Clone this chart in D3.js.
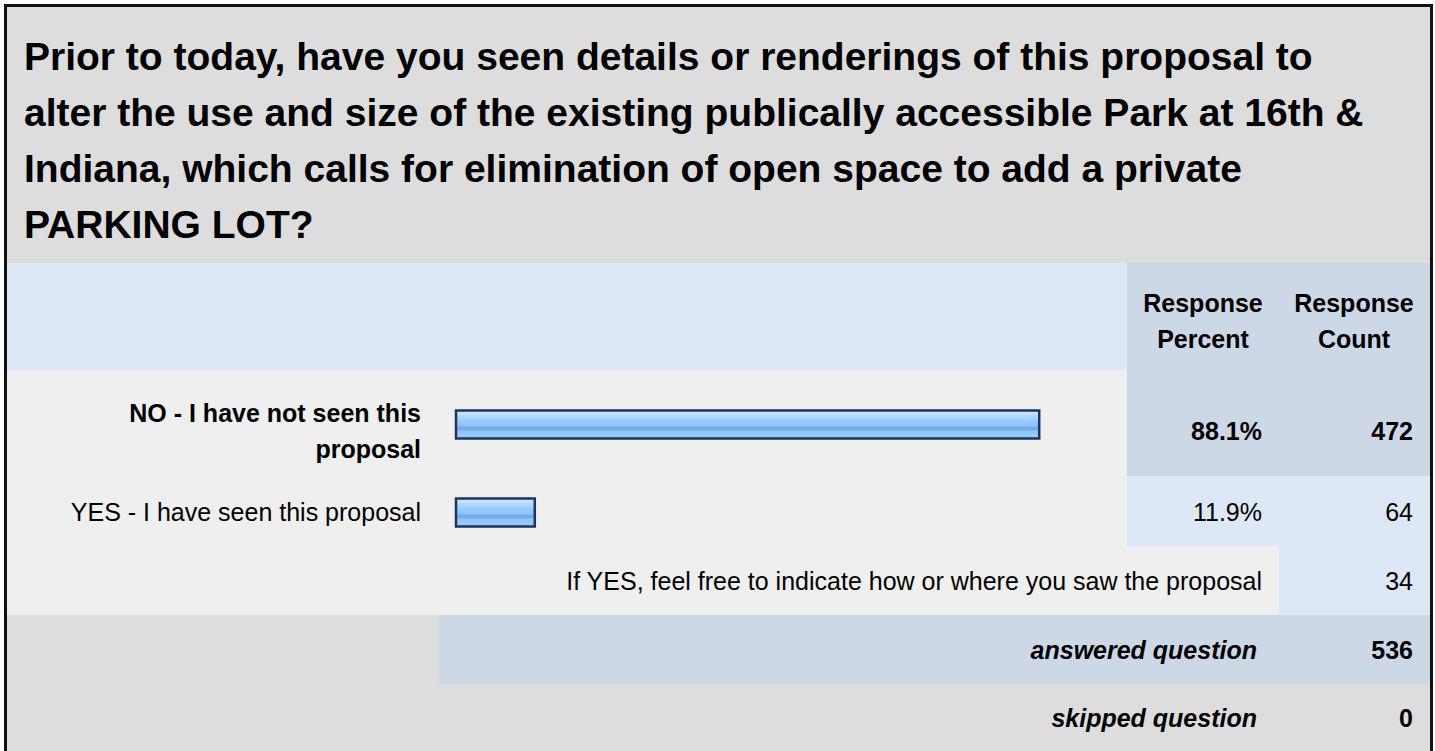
<!DOCTYPE html>
<html><head><meta charset="utf-8">
<script src="https://cdn.jsdelivr.net/npm/d3@7"></script>
<style>body{margin:0;background:#fff;overflow:hidden}svg{display:block}text{font-family:"Liberation Sans",Arial,Helvetica,sans-serif;fill:#000}</style>
</head><body><svg id="c" width="1435" height="751"></svg>
<script>
// ---- data ----
const titleLines = [
  "Prior to today, have you seen details or renderings of this proposal to",
  "alter the use and size of the existing publically accessible Park at 16th &",
  "Indiana, which calls for elimination of open space to add a private",
  "PARKING LOT?"
];
const headerPercent = ["Response", "Percent"];
const headerCount = ["Response", "Count"];
const answerLabels = [["NO - I have not seen this", "proposal"], ["YES - I have seen this proposal"]];
const percents = [88.1, 11.9];
const counts = [472, 64];
const otherLabel = "If YES, feel free to indicate how or where you saw the proposal";
const otherCount = 34;
const summaryLabels = ["answered question", "skipped question"];
const summaryValues = [536, 0];

// ---- layout ----
const svg = d3.select("#c");
const L = 7, R = 1430, colP = 1127, colC = 1279;
const rowsY = [263, 370, 476, 546, 615, 684, 760];
const TS = 39, FS = 25;

const defs = svg.append("defs");
const g = defs.append("linearGradient").attr("id", "bar").attr("x1", 0).attr("x2", 0).attr("y1", 0).attr("y2", 1);
[[0, "#d2e8ff"], [0.2, "#b4d8ff"], [0.35, "#9ccaff"], [0.55, "#8fc1f8"], [0.6, "#74abec"], [0.7, "#78afef"], [0.75, "#92c4fa"], [1, "#9fcbfb"]]
  .forEach(([o, c]) => g.append("stop").attr("offset", o).attr("stop-color", c));

// backgrounds
svg.append("rect").attr("x", L).attr("y", 7).attr("width", R - L).attr("height", rowsY[0] - 7).attr("fill", "#dddddd");
svg.append("rect").attr("x", L).attr("y", rowsY[0]).attr("width", colP - L).attr("height", rowsY[1] - rowsY[0]).attr("fill", "#dce8f6");
svg.append("rect").attr("x", colP).attr("y", rowsY[0]).attr("width", R - colP).attr("height", rowsY[1] - rowsY[0]).attr("fill", "#cdd8e6");
svg.append("rect").attr("x", L).attr("y", rowsY[1]).attr("width", R - L).attr("height", rowsY[4] - rowsY[1]).attr("fill", "#efefef");
svg.append("rect").attr("x", colP).attr("y", rowsY[1]).attr("width", R - colP).attr("height", rowsY[2] - rowsY[1]).attr("fill", "#cdd8e6");
svg.append("rect").attr("x", colP).attr("y", rowsY[2]).attr("width", R - colP).attr("height", rowsY[3] - rowsY[2]).attr("fill", "#dce8f6");
svg.append("rect").attr("x", colC).attr("y", rowsY[3]).attr("width", R - colC).attr("height", rowsY[4] - rowsY[3]).attr("fill", "#dce8f6");
svg.append("rect").attr("x", L).attr("y", rowsY[4]).attr("width", R - L).attr("height", rowsY[6] - rowsY[4]).attr("fill", "#dddddd");
svg.append("rect").attr("x", 439).attr("y", rowsY[4]).attr("width", R - 439).attr("height", rowsY[5] - rowsY[4]).attr("fill", "#cdd8e6");

// outer border
svg.append("path").attr("d", `M5.5,760 V5.5 H1431.5 V760`).attr("fill", "none").attr("stroke", "#111").attr("stroke-width", 3);

// title
svg.append("g").selectAll("text").data(titleLines).join("text")
  .attr("x", 24).attr("y", (d, i) => 70 + i * 56)
  .attr("font-size", TS).attr("font-weight", "bold").text(d => d);

// header
[[headerPercent, 1203], [headerCount, 1354]].forEach(([lines, cx]) => {
  svg.append("g").selectAll("text").data(lines).join("text")
    .attr("x", cx).attr("y", (d, i) => 312 + i * 36).attr("text-anchor", "middle")
    .attr("font-size", FS).attr("font-weight", "bold").text(d => d);
});

// bars
const x = d3.scaleLinear().domain([0, 100]).range([456, 1118]);
const barTop = [410, 498], barH = 28;
const maxIdx = percents.indexOf(d3.max(percents));
svg.append("g").selectAll("rect").data(percents).join("rect")
  .attr("x", x(0)).attr("y", (d, i) => barTop[i] + 0.5)
  .attr("width", d => x(d) - x(0)).attr("height", barH)
  .attr("fill", "url(#bar)").attr("stroke", "#1b355c").attr("stroke-width", 2.5);

const rowMid = [431, 512];
answerLabels.forEach((lines, i) => {
  const bold = i === maxIdx ? "bold" : "normal";
  const n = lines.length;
  svg.append("g").selectAll("text").data(lines).join("text")
    .attr("x", 421)
    .attr("y", (d, j) => rowMid[i] + 9 + (j - (n - 1) / 2) * 36)
    .attr("text-anchor", "end").attr("font-size", FS).attr("font-weight", bold).text(d => d);
  svg.append("text").attr("x", 1262).attr("y", rowMid[i] + 9).attr("text-anchor", "end")
    .attr("font-size", FS).attr("font-weight", bold).text(d3.format(".1f")(percents[i]) + "%");
  svg.append("text").attr("x", 1413).attr("y", rowMid[i] + 9).attr("text-anchor", "end")
    .attr("font-size", FS).attr("font-weight", bold).text(counts[i]);
});

// other row
svg.append("text").attr("x", 1262).attr("y", 590).attr("text-anchor", "end").attr("font-size", FS).text(otherLabel);
svg.append("text").attr("x", 1413).attr("y", 590).attr("text-anchor", "end").attr("font-size", FS).text(otherCount);

// summary
const sumMid = [650, 718];
summaryLabels.forEach((lab, i) => {
  svg.append("text").attr("x", 1257).attr("y", sumMid[i] + 9).attr("text-anchor", "end")
    .attr("font-size", FS).attr("font-weight", "bold").attr("font-style", "italic").text(lab);
  svg.append("text").attr("x", 1413).attr("y", sumMid[i] + 9).attr("text-anchor", "end")
    .attr("font-size", FS).attr("font-weight", "bold").text(summaryValues[i]);
});
</script></body></html>
